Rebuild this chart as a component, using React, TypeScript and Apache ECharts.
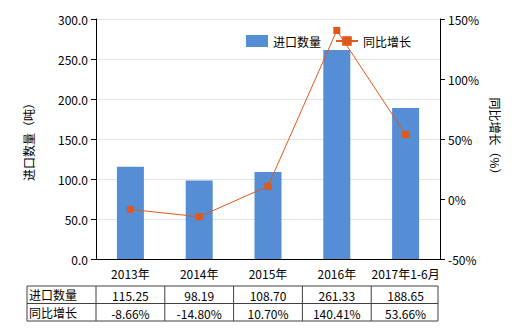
import React, { useEffect, useRef } from "react";
import * as echarts from "echarts";

const categories = ["2013年", "2014年", "2015年", "2016年", "2017年1-6月"];
const importQty = [115.25, 98.19, 108.7, 261.33, 188.65];
const yoyGrowth = [-8.66, -14.8, 10.7, 140.41, 53.66];
const qtyLabels = ["115.25", "98.19", "108.70", "261.33", "188.65"];
const yoyLabels = ["-8.66%", "-14.80%", "10.70%", "140.41%", "53.66%"];
const rowNames = ["进口数量", "同比增长"];

const FONT = "'Noto Sans CJK SC', 'Noto Sans', sans-serif";
const BAR = "#558ED5";
const LINE = "#E0581A";

export default function App() {
  const ref = useRef<HTMLDivElement>(null);
  useEffect(() => {
    if (!ref.current) return;
    const chart = echarts.init(ref.current, null, { renderer: "svg" });
    const gl = 96, gr = 440, gt = 19, gb = 259;
    const cw = (gr - gl) / categories.length;
    const tableL = 27, tableR = 438;
    const rowY = [286, 303.5, 321];
    const graphics: any[] = [];
    const lineStyle = { stroke: "#404040", lineWidth: 1 };
    rowY.forEach((y) => {
      graphics.push({ type: "line", shape: { x1: tableL, y1: y, x2: tableR, y2: y }, style: lineStyle });
    });
    const vx = [tableL, gl];
    for (let i = 1; i < categories.length; i++) vx.push(gl + cw * i);
    vx.push(tableR);
    vx.forEach((x) => {
      graphics.push({ type: "line", shape: { x1: x, y1: rowY[0], x2: x, y2: rowY[2] }, style: lineStyle });
    });
    rowNames.forEach((n, r) => {
      graphics.push({
        type: "text",
        x: tableL + 2,
        y: (rowY[r] + rowY[r + 1]) / 2,
        style: { text: n, font: `12px ${FONT}`, fill: "#000", textAlign: "left", textVerticalAlign: "middle" },
      });
    });
    [qtyLabels, yoyLabels].forEach((arr, r) => {
      arr.forEach((t, i) => {
        graphics.push({
          type: "text",
          x: gl + cw * (i + 0.5),
          y: (rowY[r] + rowY[r + 1]) / 2 + 1,
          style: { text: t, font: `12px ${FONT}`, fill: "#000", textAlign: "center", textVerticalAlign: "middle" },
        });
      });
    });

    chart.setOption({
      animation: false,
      textStyle: { fontFamily: FONT },
      grid: { left: gl, right: 520 - gr, top: gt, bottom: 330 - gb },
      legend: {
        right: 104,
        top: 30,
        itemWidth: 22,
        itemHeight: 12,
        itemGap: 14,
        textStyle: { fontSize: 12, color: "#000", fontFamily: FONT },
        data: [
          { name: "进口数量", icon: "rect" },
          { name: "同比增长" },
        ],
      },
      xAxis: {
        type: "category",
        data: categories,
        axisLine: { lineStyle: { color: "#000" } },
        axisTick: { alignWithLabel: true, length: 5, lineStyle: { color: "#000" } },
        axisLabel: { color: "#000", fontSize: 12, margin: 8, interval: 0 },
      },
      yAxis: [
        {
          type: "value",
          min: 0,
          max: 300,
          interval: 50,
          name: "进口数量（吨）",
          nameLocation: "middle",
          nameGap: 62,
          nameRotate: 90,
          nameTextStyle: { color: "#000", fontSize: 12 },
          axisLine: { show: true, lineStyle: { color: "#000" } },
          axisTick: { show: true, length: 5, lineStyle: { color: "#000" } },
          axisLabel: { color: "#000", fontSize: 12, formatter: (v: number) => v.toFixed(1) },
          splitLine: { lineStyle: { color: "#e4e4e4" } },
        },
        {
          type: "value",
          min: -50,
          max: 150,
          interval: 50,
          name: "同比增长（%）",
          nameLocation: "middle",
          nameGap: 40,
          nameRotate: -90,
          nameTextStyle: { color: "#000", fontSize: 12 },
          axisLine: { show: true, lineStyle: { color: "#000" } },
          axisTick: { show: true, length: 5, lineStyle: { color: "#000" } },
          axisLabel: { color: "#000", fontSize: 12, formatter: (v: number) => v + "%" },
          splitLine: { show: false },
        },
      ],
      series: [
        {
          name: "进口数量",
          type: "bar",
          data: importQty,
          barWidth: 27,
          itemStyle: { color: BAR },
        },
        {
          name: "同比增长",
          type: "line",
          yAxisIndex: 1,
          data: yoyGrowth,
          symbol: "rect",
          symbolSize: 7,
          itemStyle: { color: LINE },
          lineStyle: { color: LINE, width: 1 },
        },
      ],
      graphic: graphics,
    });
    return () => chart.dispose();
  }, []);
  return <div ref={ref} style={{ width: 520, height: 330, position: "absolute", left: 0, top: 0 }} />;
}
